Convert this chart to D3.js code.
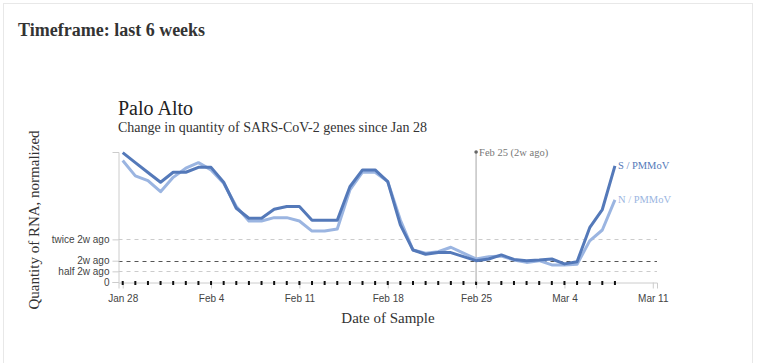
<!DOCTYPE html>
<html>
<head>
<meta charset="utf-8">
<script src="https://cdn.jsdelivr.net/npm/d3@7"></script>
<style>
  body { margin: 0; background: #fff; }
  .serif { font-family: "Liberation Serif", "DejaVu Serif", serif; }
  .tick text { font-family: "Liberation Sans", Arial, sans-serif; font-size: 10px; fill: #444; }
</style>
</head>
<body>
<svg id="chart" width="758" height="363"></svg>
<script>
// sample dates run daily from Jan 28 to Mar 8
const startDate = new Date(2023, 0, 28);
const lastDate = new Date(2023, 2, 8);
const endDate = new Date(2023, 2, 11);
const refDate = new Date(2023, 1, 25);

// quantities, normalized so that 1 = level 2 weeks ago
const sValues = [6.07, 5.60, 5.14, 4.68, 5.15, 5.15, 5.38, 5.38, 4.68, 3.46,
                 2.99, 2.99, 3.41, 3.54, 3.54, 2.90, 2.90, 2.90, 4.47, 5.26,
                 5.26, 4.71, 2.68, 1.50, 1.30, 1.38, 1.38, 1.19, 1.00, 1.08,
                 1.27, 1.06, 1.00, 1.03, 1.08, 0.85, 0.95, 2.55, 3.40, 5.45];
const nValues = [5.70, 4.98, 4.76, 4.24, 4.91, 5.34, 5.60, 5.26, 4.63, 3.54,
                 2.86, 2.86, 3.02, 3.02, 2.86, 2.39, 2.39, 2.49, 4.32, 5.15,
                 5.15, 4.71, 2.91, 1.50, 1.35, 1.42, 1.63, 1.35, 1.08, 1.19,
                 1.22, 1.03, 0.92, 1.00, 0.80, 0.80, 0.83, 1.93, 2.44, 3.85];

const yTickValues = [0, 0.5, 1, 2];
const yTickLabels = ["0", "half 2w ago", "2w ago", "twice 2w ago"];
const seriesNames = ["S / PMMoV", "N / PMMoV"];
const seriesColors = ["#5479b9", "#9bb5e1"];

const dates = d3.timeDay.range(startDate, d3.timeDay.offset(lastDate, 1));
// weekly ticks starting at Jan 28
const xTicks = d3.timeDay.range(startDate, d3.timeDay.offset(endDate, 1), 7);

const svg = d3.select("#chart");

// card frame
svg.append("rect")
    .attr("x", 3.5).attr("y", 3.5)
    .attr("width", 749).attr("height", 380)
    .attr("fill", "none").attr("stroke", "#e8e8e8");

svg.append("text").attr("class", "serif")
    .attr("x", 18).attr("y", 36)
    .attr("font-size", 18).attr("font-weight", "bold").attr("fill", "#333")
    .text("Timeframe: last 6 weeks");

svg.append("text").attr("class", "serif")
    .attr("x", 118).attr("y", 115)
    .attr("font-size", 20).attr("fill", "#222")
    .text("Palo Alto");

svg.append("text").attr("class", "serif")
    .attr("x", 118).attr("y", 132)
    .attr("font-size", 14).attr("fill", "#333")
    .text("Change in quantity of SARS-CoV-2 genes since Jan 28");

// scales
const x = d3.scaleTime()
    .domain([d3.timeHour.offset(startDate, -7.6), d3.timeHour.offset(endDate, 8.4)])
    .range([118.5, 657]);
const y = d3.scaleLinear().domain([0, 6.1]).range([282, 152]);

// guide lines
const guides = svg.append("g");
yTickValues.slice(1).forEach(v => {
    guides.append("line")
        .attr("x1", x.range()[0]).attr("x2", x.range()[1])
        .attr("y1", Math.round(y(v)) + 0.5).attr("y2", Math.round(y(v)) + 0.5)
        .attr("stroke", v === 1 ? "#555" : "#ccc")
        .attr("stroke-dasharray", "4,4");
});

// axes
const yAxis = svg.append("g")
    .attr("transform", "translate(118.5,0)")
    .call(d3.axisLeft(y).tickValues(yTickValues)
        .tickFormat((d, i) => yTickLabels[i]).tickSizeOuter(6));
yAxis.selectAll("path, line").attr("stroke", "#ccc");

const xAxis = svg.append("g")
    .attr("transform", "translate(0,282.5)")
    .call(d3.axisBottom(x).tickValues(xTicks)
        .tickFormat(d3.timeFormat("%b %-d")).tickSizeOuter(6));
xAxis.selectAll("path, line").attr("stroke", "#ccc");
xAxis.selectAll("text").attr("dy", "1.05em");

// sample rug
svg.append("g").selectAll("rect")
    .data(dates)
    .enter().append("rect")
        .attr("x", d => x(d) - 1)
        .attr("y", 281)
        .attr("width", 2).attr("height", 4)
        .attr("fill", "#111");

// reference date marker
svg.append("line")
    .attr("x1", x(refDate)).attr("x2", x(refDate))
    .attr("y1", y(6.1)).attr("y2", y(0))
    .attr("stroke", "#c4c4c4").attr("stroke-width", 1.5);
svg.append("circle")
    .attr("cx", x(refDate)).attr("cy", y(6.1)).attr("r", 1.8)
    .attr("fill", "#666");
svg.append("text").attr("class", "serif")
    .attr("x", x(refDate) + 3).attr("y", y(6.1) + 3.5)
    .attr("font-size", 10.5).attr("fill", "#777")
    .text("Feb 25 (2w ago)");

// series lines
const line = d3.line()
    .x((d, i) => x(dates[i]))
    .y(d => y(d));

[nValues, sValues].forEach((vals, k) => {
    const idx = k === 0 ? 1 : 0;
    svg.append("path")
        .datum(vals)
        .attr("fill", "none")
        .attr("stroke", seriesColors[idx])
        .attr("stroke-width", 3)
        .attr("stroke-linejoin", "round")
        .attr("d", line);
    svg.append("text").attr("class", "serif")
        .attr("x", x(lastDate) + 3)
        .attr("y", y(vals[vals.length - 1]) + 3.5)
        .attr("font-size", 10.5)
        .attr("fill", seriesColors[idx])
        .text(seriesNames[idx]);
});

// axis titles
svg.append("text").attr("class", "serif")
    .attr("transform", "translate(39,220) rotate(-90)")
    .attr("text-anchor", "middle")
    .attr("font-size", 15).attr("fill", "#333")
    .text("Quantity of RNA, normalized");

svg.append("text").attr("class", "serif")
    .attr("x", 388).attr("y", 323)
    .attr("text-anchor", "middle")
    .attr("font-size", 15).attr("fill", "#333")
    .text("Date of Sample");
</script>
</body>
</html>
